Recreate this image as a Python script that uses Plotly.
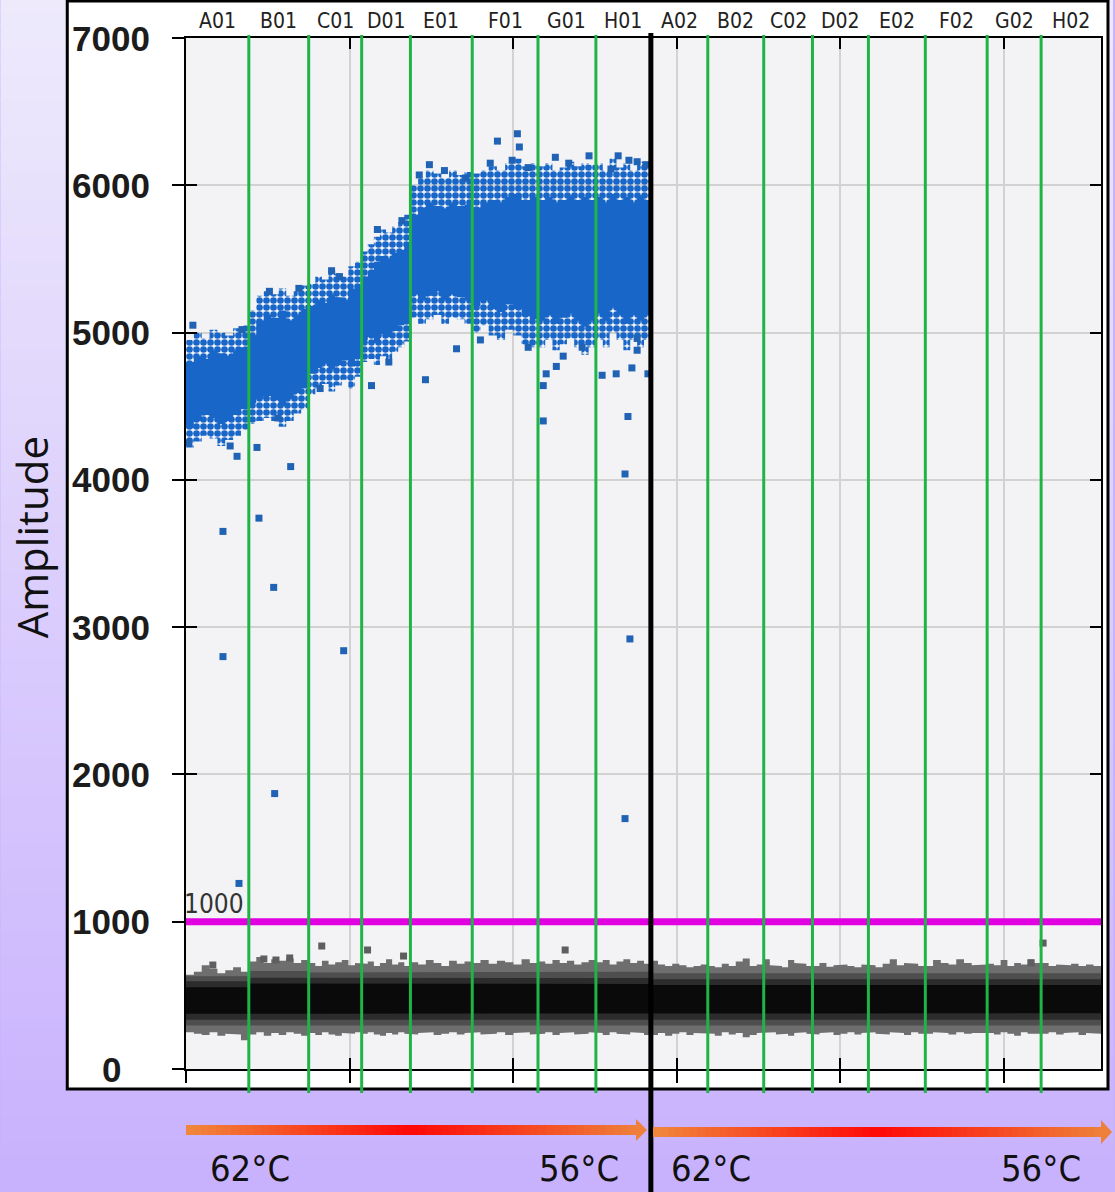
import plotly.graph_objects as go

# ---------------- data ----------------
wells = ["A01", "B01", "C01", "D01", "E01", "F01", "G01", "H01",
         "A02", "B02", "C02", "D02", "E02", "F02", "G02", "H02"]
# droplet events per well (x axis = cumulative event number)
well_events = [19200, 18300, 16200, 14900, 18900, 20100, 17700, 16800,
               17400, 17100, 14900, 17100, 17400, 18900, 16500, 18300]
x_tick_vals = [0, 50000, 100000, 150000, 200000, 250000]
y_tick_vals = [0, 1000, 2000, 3000, 4000, 5000, 6000, 7000]
y_tick_text = ["0", "1000", "2000", "3000", "4000", "5000", "6000", "7000"]
threshold = 1000
plate_split_after = "H01"
temp_labels = ["62°C", "56°C", "62°C", "56°C"]
y_title = "Amplitude"

# negative droplet band: ragged outer envelope (8 steps per well)
neg_top = [
    [640, 660, 705, 680, 650, 670, 690, 660],
    [730, 760, 720, 745, 735, 750, 720, 740],
    [720, 700, 735, 710, 725, 740, 705, 720],
    [715, 730, 700, 720, 745, 710, 725, 700],
    [725, 710, 740, 720, 700, 735, 715, 730],
    [720, 740, 715, 735, 725, 710, 745, 720],
    [730, 715, 740, 720, 735, 710, 725, 740],
    [725, 740, 710, 730, 745, 720, 735, 715],
    [735, 710, 700, 715, 705, 690, 700, 710],
    [700, 690, 715, 700, 730, 750, 700, 710],
    [745, 705, 700, 690, 740, 720, 715, 700],
    [700, 720, 695, 705, 710, 700, 690, 710],
    [705, 690, 715, 745, 705, 720, 715, 700],
    [700, 740, 720, 710, 745, 720, 705, 710],
    [715, 705, 740, 700, 720, 710, 745, 720],
    [720, 700, 710, 705, 715, 700, 710, 700],
]
neg_bot = [
    [250, 240, 230, 250, 225, 240, 235, 195],
    [235, 250, 225, 245, 230, 250, 240, 225],
    [245, 230, 250, 235, 225, 245, 240, 250],
    [240, 250, 235, 225, 245, 235, 250, 240],
    [235, 245, 250, 230, 240, 250, 235, 245],
    [250, 235, 240, 250, 230, 245, 250, 235],
    [240, 250, 230, 245, 250, 235, 240, 250],
    [245, 230, 250, 240, 235, 250, 245, 230],
    [230, 245, 225, 240, 250, 230, 245, 240],
    [240, 225, 250, 235, 245, 215, 230, 245],
    [245, 250, 235, 240, 225, 245, 250, 240],
    [235, 245, 250, 230, 240, 250, 235, 245],
    [250, 240, 235, 250, 245, 230, 250, 240],
    [240, 250, 245, 235, 250, 240, 245, 250],
    [245, 235, 250, 240, 225, 250, 240, 235],
    [240, 250, 235, 245, 250, 230, 245, 240],
]
# denser inner parts of the negative band (per well)
neg_mid_lo = [295, 300, 295, 295, 300, 295, 295, 300, 295, 295, 300, 295, 295, 300, 295, 295]
neg_mid_hi = [630, 665, 655, 655, 660, 660, 660, 660, 650, 650, 655, 650, 650, 655, 650, 650]
neg_dark_lo = [335, 340, 335, 335, 340, 335, 335, 340, 335, 335, 340, 335, 335, 340, 335, 335]
neg_dark_hi = [595, 620, 615, 615, 617, 617, 617, 617, 610, 610, 612, 610, 610, 612, 610, 610]
neg_core_lo = [375, 380, 378, 378, 380, 378, 378, 380, 378, 378, 380, 378, 378, 380, 378, 378]
neg_core_hi = [555, 580, 575, 575, 577, 577, 577, 577, 570, 570, 572, 570, 570, 572, 570, 570]

# positive droplet clouds (wells A01-H01), 8 steps per well
# outer (sparse) envelope
blue_halo_top = [
    [4950, 5000, 4960, 5020, 5000, 4980, 5030, 5050],
    [5150, 5250, 5280, 5260, 5300, 5250, 5280, 5320],
    [5330, 5380, 5360, 5420, 5400, 5380, 5450, 5480],
    [5550, 5600, 5650, 5700, 5680, 5720, 5750, 5800],
    [6000, 6050, 6100, 6080, 6050, 6100, 6070, 6090],
    [6080, 6100, 6130, 6100, 6150, 6180, 6130, 6150],
    [6130, 6150, 6100, 6120, 6160, 6130, 6150, 6140],
    [6150, 6100, 6180, 6120, 6150, 6100, 6160, 6130],
]
blue_halo_bot = [
    [4220, 4260, 4300, 4280, 4230, 4270, 4300, 4340],
    [4380, 4400, 4420, 4400, 4360, 4400, 4450, 4480],
    [4580, 4620, 4650, 4600, 4640, 4680, 4620, 4700],
    [4800, 4820, 4780, 4840, 4820, 4870, 4900, 4940],
    [5100, 5060, 5090, 5120, 5060, 5100, 5090, 5060],
    [5000, 5050, 4980, 4950, 5020, 4980, 4920, 4900],
    [4900, 4950, 4880, 4920, 4960, 4900, 4850, 4900],
    [4950, 4900, 5000, 4950, 4880, 4950, 4900, 4950],
]
# dense core envelope
blue_core_top = [
    [4800, 4840, 4820, 4880, 4860, 4840, 4880, 4900],
    [4980, 5080, 5120, 5100, 5150, 5080, 5120, 5160],
    [5180, 5220, 5200, 5260, 5240, 5220, 5300, 5320],
    [5380, 5420, 5480, 5520, 5500, 5540, 5560, 5600],
    [5800, 5850, 5880, 5860, 5840, 5880, 5860, 5870],
    [5850, 5880, 5900, 5880, 5920, 5940, 5900, 5920],
    [5900, 5920, 5880, 5900, 5930, 5900, 5920, 5900],
    [5920, 5880, 5940, 5900, 5920, 5880, 5930, 5900],
]
blue_core_bot = [
    [4350, 4400, 4440, 4420, 4380, 4400, 4440, 4480],
    [4520, 4550, 4570, 4540, 4500, 4550, 4590, 4620],
    [4720, 4760, 4790, 4750, 4780, 4810, 4770, 4840],
    [4950, 4970, 4930, 4990, 4970, 5010, 5050, 5080],
    [5260, 5220, 5250, 5280, 5220, 5260, 5240, 5220],
    [5180, 5220, 5160, 5140, 5190, 5160, 5110, 5090],
    [5080, 5120, 5060, 5100, 5130, 5080, 5040, 5080],
    [5130, 5080, 5170, 5120, 5060, 5120, 5080, 5120],
]
# scattered positive droplets (event number, amplitude)
blue_x = [2100, 17100, 15600, 11300, 11300, 16200, 900, 13500,
          22300, 21700, 32000, 28100, 26800, 27100, 25500, 34500,
          48200, 46900, 41000, 44500,
          56700, 62000, 58500, 66000,
          73200, 82700, 74400, 71300, 79000, 85500,
          95200, 101300, 101900, 99700, 104600, 104600, 90000, 93000,
          112900, 123200, 115300, 113200, 110100, 109200, 109200, 121100, 117000,
          132100, 129900, 135400, 137900, 140600, 127200, 131500, 136300,
          135100, 134200, 135700, 134200, 137900, 137900, 141200]
blue_y = [5050, 5020, 4160, 3650, 2800, 1260, 4250, 4230,
          3740, 4220, 4090, 4420, 3270, 1870, 5280, 5300,
          2840, 5380, 4620, 5420,
          4640, 4800, 5700, 5760,
          4680, 4890, 6140, 6070, 6100, 6050,
          6300, 6350, 6260, 6170, 6120, 4900, 4950, 6150,
          6190, 6200, 4840, 4770, 4720, 4640, 4400, 4900, 6150,
          6200, 6110, 6170, 6160, 6140, 4710, 4720, 4760,
          4430, 4040, 2920, 1700, 4960, 4880, 4720]
# scattered negative droplets above the band
gray_x = [8200, 23800, 27500, 31700, 41500, 55500, 66500, 115900, 262000, 258300]
gray_y = [706, 747, 740, 754, 835, 808, 767, 808, 855, 720]

# ---------------- layout geometry ----------------
W, H = 1115, 1192
L, R, T, B = 186, 1103, 38, 1069


def pxx(px):
    return (px - L) / (R - L)


def pyy(py):
    return (B - py) / (B - T)


bounds = [0]
for n in well_events:
    bounds.append(bounds[-1] + n)
x_max = bounds[-1]
centers = [(bounds[i] + bounds[i + 1]) / 2 for i in range(len(wells))]
split_idx = wells.index(plate_split_after) + 1


def step_edge(vals, idxs):
    xs, ys = [], []
    for i in idxs:
        x0, x1 = bounds[i], bounds[i + 1]
        n = len(vals[i])
        w = (x1 - x0) / n
        for k, v in enumerate(vals[i]):
            xs += [x0 + k * w, x0 + (k + 1) * w]
            ys += [v, v]
    return xs, ys


def band_trace(top, bot, idxs, color, pattern=None):
    xt, yt = step_edge(top, idxs)
    xb, yb = step_edge(bot, idxs)
    kw = {}
    if pattern:
        kw["fillpattern"] = pattern
        fc = "rgba(0,0,0,0)"
    else:
        fc = color
    return go.Scatter(x=xt + xb[::-1], y=yt + yb[::-1], mode="lines",
                      fill="toself", fillcolor=fc,
                      line=dict(width=0, color=fc),
                      hoverinfo="skip", showlegend=False, **kw)


fig = go.Figure()
all_idx = list(range(len(wells)))
as_lists = lambda arr: [[v] for v in arr]
fig.add_trace(band_trace(neg_top, neg_bot, all_idx, "#6e6e6e"))
fig.add_trace(band_trace(as_lists(neg_mid_hi), as_lists(neg_mid_lo), all_idx, "#4e4e4e"))
fig.add_trace(band_trace(as_lists(neg_dark_hi), as_lists(neg_dark_lo), all_idx, "#2c2c2c"))
fig.add_trace(band_trace(as_lists(neg_core_hi), as_lists(neg_core_lo), all_idx, "#0a0a0a"))
fig.add_trace(go.Scatter(x=gray_x, y=gray_y, mode="markers",
                         marker=dict(symbol="square", size=7, color="#5e5e5e"),
                         hoverinfo="skip", showlegend=False))
blue_idx = list(range(len(blue_core_top)))
fig.add_trace(band_trace(blue_halo_top, blue_halo_bot, blue_idx, "#1866c8",
                         pattern=dict(shape=".", fgcolor="#1866c8", bgcolor="rgba(0,0,0,0)",
                                      fgopacity=1, size=7, solidity=0.7)))
fig.add_trace(band_trace(blue_core_top, blue_core_bot, blue_idx, "#1866c8"))
fig.add_trace(go.Scatter(x=blue_x, y=blue_y, mode="markers",
                         marker=dict(symbol="square", size=7, color="#2062b4"),
                         hoverinfo="skip", showlegend=False))
# helper trace for the outer half of the crossing ticks
fig.add_trace(go.Scatter(x=[0], y=[0], xaxis="x2", yaxis="y2", mode="markers",
                         marker=dict(opacity=0), hoverinfo="skip", showlegend=False))

shapes = []
# background gradient
top_c = (238, 234, 252)
bot_c = (200, 177, 253)
nb = 96
for k in range(nb):
    t = (k + 0.5) / nb
    c = tuple(round(top_c[j] + (bot_c[j] - top_c[j]) * t) for j in range(3))
    y0 = k * H / nb
    y1 = (k + 1) * H / nb + 1
    shapes.append(dict(type="rect", xref="paper", yref="paper", layer="below",
                       x0=pxx(0), x1=pxx(W), y0=pyy(y1), y1=pyy(y0),
                       fillcolor="rgb(%d,%d,%d)" % c, line=dict(width=0)))
# white frame of the screenshot
shapes.append(dict(type="rect", xref="paper", yref="paper", layer="below",
                   x0=pxx(67), x1=pxx(1110), y0=pyy(1089), y1=pyy(1),
                   fillcolor="white", line=dict(color="black", width=3)))
# plot area background
shapes.append(dict(type="rect", xref="paper", yref="paper", layer="below",
                   x0=0, x1=1, y0=0, y1=1, fillcolor="#f3f3f5", line=dict(width=0)))
# threshold
shapes.append(dict(type="line", xref="paper", yref="y", x0=0, x1=1,
                   y0=threshold, y1=threshold, line=dict(color="#e100e0", width=7)))
# well separators
for i in range(1, len(wells)):
    if i == split_idx:
        continue
    shapes.append(dict(type="line", xref="x", yref="paper", x0=bounds[i], x1=bounds[i],
                       y0=pyy(1093), y1=pyy(35), line=dict(color="#1fb446", width=3)))
shapes.append(dict(type="line", xref="x", yref="paper", x0=bounds[split_idx], x1=bounds[split_idx],
                   y0=pyy(H + 2), y1=pyy(33), line=dict(color="black", width=5)))


# gradient arrows
def lerp(c1, c2, t):
    return tuple(round(c1[j] + (c2[j] - c1[j]) * t) for j in range(3))


def grad(t):
    a, m, b = (240, 136, 60), (255, 8, 8), (238, 128, 58)
    return lerp(a, m, t / 0.5) if t < 0.5 else lerp(m, b, (t - 0.5) / 0.5)


def arrow(xs, xh, xt, yc, half, head_half):
    n = 60
    seg = (xh - xs) / n
    for k in range(n):
        c = grad((k + 0.5) / n)
        shapes.append(dict(type="rect", xref="paper", yref="paper",
                           x0=pxx(xs + k * seg), x1=pxx(xs + (k + 1) * seg + 0.8),
                           y0=pyy(yc + half), y1=pyy(yc - half),
                           fillcolor="rgb(%d,%d,%d)" % c, line=dict(width=0)))
    c = grad(1.0)
    path = "M %f,%f L %f,%f L %f,%f Z" % (pxx(xh), pyy(yc - head_half), pxx(xt), pyy(yc),
                                          pxx(xh), pyy(yc + head_half))
    shapes.append(dict(type="path", xref="paper", yref="paper", path=path,
                       fillcolor="rgb(%d,%d,%d)" % c, line=dict(width=0)))


arrow(186, 637, 648, 1130, 5, 11)
arrow(654, 1103, 1114, 1132, 5, 12)

narrow = "Liberation Sans Narrow, DejaVu Sans Condensed, sans-serif"
annotations = []
for v, txt in zip(y_tick_vals, y_tick_text):
    annotations.append(dict(x=pxx(111), xref="paper", y=v, yref="y", text="<b>%s</b>" % txt,
                            showarrow=False, xanchor="center", yanchor="middle",
                            font=dict(family="Liberation Sans, Arial, sans-serif", size=35, color="#1c1c1c")))
for c, name in zip(centers, wells):
    annotations.append(dict(x=c, xref="x", y=pyy(21), yref="paper", text=name,
                            showarrow=False, xanchor="center", yanchor="middle",
                            font=dict(family=narrow, size=21, color="#222222")))
annotations.append(dict(x=0, xref="x", y=threshold, yref="y", text=str(threshold),
                        showarrow=False, xanchor="left", yanchor="bottom", xshift=-4, yshift=1,
                        font=dict(family=narrow, size=26, color="#333333")))
annotations.append(dict(x=pxx(31), xref="paper", y=pyy(537), yref="paper", text=y_title,
                        textangle=-90, showarrow=False, xanchor="center", yanchor="middle",
                        font=dict(family="Open Sans, sans-serif", size=42, color="#111111")))
for txt, px in zip(temp_labels, [250, 580, 712, 1043]):
    annotations.append(dict(x=pxx(px), xref="paper", y=pyy(1168), yref="paper", text=txt,
                            showarrow=False, xanchor="center", yanchor="middle",
                            font=dict(family=narrow, size=36, color="#111111")))

axis_common = dict(showline=True, linecolor="black", linewidth=2, tickcolor="black",
                   tickwidth=2, showticklabels=False, zeroline=False)
fig.update_layout(
    width=W, height=H,
    margin=dict(l=L, r=W - R, t=T, b=H - B, pad=0),
    paper_bgcolor="rgb(200,177,253)",
    plot_bgcolor="rgba(0,0,0,0)",
    showlegend=False,
    xaxis=dict(range=[0, x_max], tickvals=x_tick_vals, ticks="inside", ticklen=11,
               mirror="ticks", showgrid=True, gridcolor="#d2d2d2", gridwidth=1.5, **axis_common),
    yaxis=dict(range=[0, 7000], tickvals=y_tick_vals, ticks="inside", ticklen=11,
               mirror="ticks", showgrid=True, gridcolor="#d2d2d2", gridwidth=1.5, **axis_common),
    xaxis2=dict(range=[0, x_max], tickvals=x_tick_vals, ticks="outside", ticklen=13,
                tickwidth=2, tickcolor="black", overlaying="x", anchor="y2", side="bottom",
                showgrid=False, showline=False, showticklabels=False, zeroline=False),
    yaxis2=dict(range=[0, 7000], tickvals=y_tick_vals, ticks="outside", ticklen=13,
                tickwidth=2, tickcolor="black", overlaying="y", anchor="x2", side="left",
                showgrid=False, showline=False, showticklabels=False, zeroline=False),
    shapes=shapes,
    annotations=annotations,
)

fig.write_html("out.html")
